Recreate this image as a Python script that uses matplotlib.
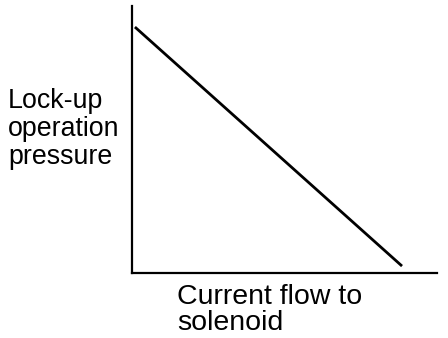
import matplotlib
matplotlib.use("Agg")
import matplotlib.pyplot as plt

# current flow (relative) vs lock-up operation pressure (relative)
current = [0.0, 1.0]
pressure = [1.0, 0.0]

y_label_lines = ["Lock-up", "operation", "pressure"]
x_label_lines = ["Current flow to", "solenoid"]

fig = plt.figure(figsize=(4.48, 3.38), dpi=100)
ax = fig.add_axes([132 / 448, 1 - 273 / 338, 305 / 448, 267 / 338])

ax.plot(current, pressure, color="black", linewidth=2.0, solid_capstyle="butt")
ax.set_xlim(-0.011, 1.131)
ax.set_ylim(-0.029, 1.088)

for side in ["top", "right"]:
    ax.spines[side].set_visible(False)
for side in ["left", "bottom"]:
    ax.spines[side].set_linewidth(1.6)
ax.set_xticks([])
ax.set_yticks([])

fig.text(8 / 448, 1 - 129 / 338, "\n".join(y_label_lines), fontsize=19.3,
         family="Liberation Sans", ha="left", va="center", linespacing=1.12)
fig.text(177 / 448, 1 - 310 / 338, "\n".join(x_label_lines), fontsize=20.5,
         family="Liberation Sans", ha="left", va="center", linespacing=0.95)

fig.savefig("out.png", dpi=100)
